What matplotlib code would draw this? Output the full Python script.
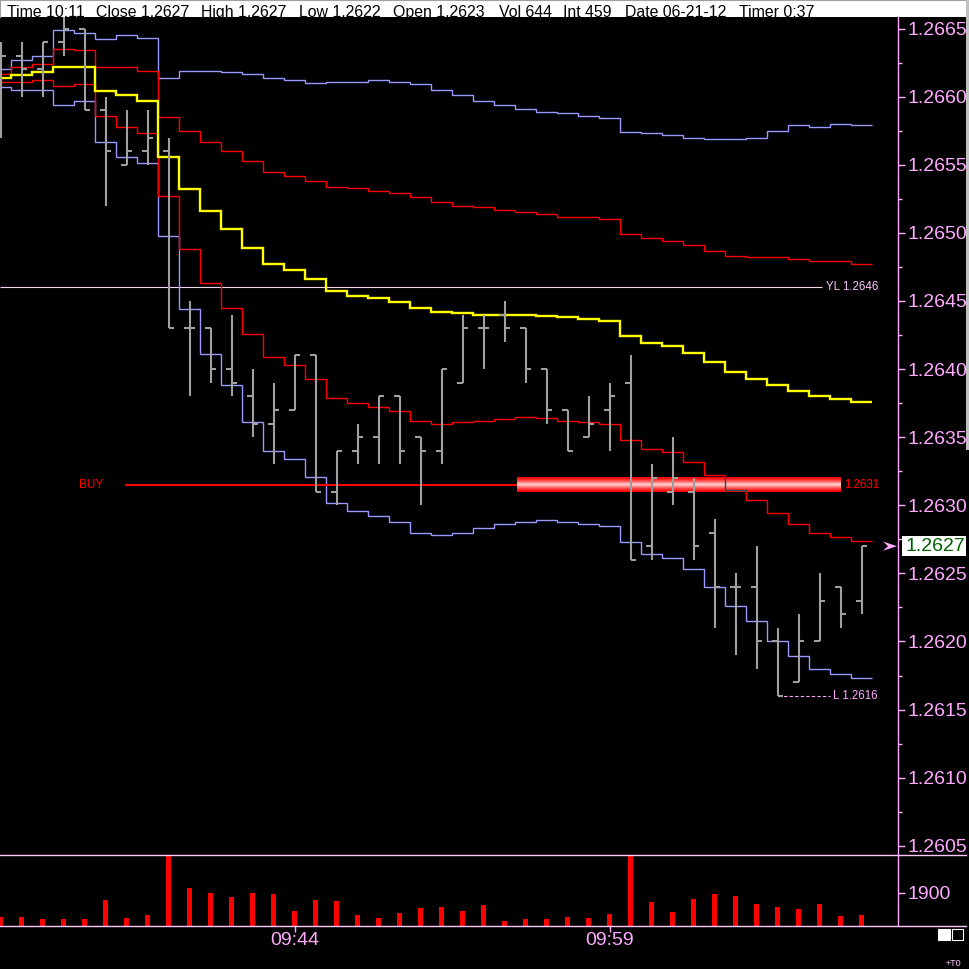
import matplotlib
matplotlib.use("Agg")
import matplotlib.pyplot as plt
import matplotlib.transforms as mtransforms
from matplotlib.patches import Rectangle, Polygon
from matplotlib.lines import Line2D
from matplotlib import font_manager as fm
import numpy as np

# ---------------- data ----------------
times = ["09:30", "09:31", "09:32", "09:33", "09:34", "09:35", "09:36", "09:37", "09:38", "09:39",
         "09:40", "09:41", "09:42", "09:43", "09:44", "09:45", "09:46", "09:47", "09:48", "09:49",
         "09:50", "09:51", "09:52", "09:53", "09:54", "09:55", "09:56", "09:57", "09:58", "09:59",
         "10:00", "10:01", "10:02", "10:03", "10:04", "10:05", "10:06", "10:07", "10:08", "10:09",
         "10:10", "10:11"]

opens = [1.2661, 1.2663, 1.2662, 1.2664, 1.2665, 1.2659, 1.2655, 1.2656, 1.2656, 1.2643,
         1.2643, 1.2640, 1.2638, 1.2636, 1.2637, 1.2641, 1.2631, 1.2634, 1.2635, 1.2638,
         1.2635, 1.2634, 1.2639, 1.2643, 1.2644, 1.2643, 1.2640, 1.2637, 1.2635, 1.2637,
         1.2639, 1.2627, 1.2631, 1.2631, 1.2628, 1.2624, 1.2624, 1.2620, 1.2617, 1.2620,
         1.2624, 1.2623]
highs = [1.2664, 1.2664, 1.2664, 1.2666, 1.2665, 1.2660, 1.2659, 1.2659, 1.2657, 1.2645,
         1.2643, 1.2644, 1.2640, 1.2639, 1.2641, 1.2641, 1.2634, 1.2636, 1.2638, 1.2638,
         1.2635, 1.2640, 1.2644, 1.2644, 1.2645, 1.2643, 1.2640, 1.2637, 1.2638, 1.2639,
         1.2641, 1.2633, 1.2635, 1.2632, 1.2629, 1.2625, 1.2627, 1.2621, 1.2622, 1.2625,
         1.2624, 1.2627]
lows = [1.2657, 1.2660, 1.2660, 1.2663, 1.2659, 1.2652, 1.2655, 1.2655, 1.2643, 1.2638,
        1.2639, 1.2638, 1.2635, 1.2633, 1.2637, 1.2631, 1.2630, 1.2633, 1.2633, 1.2633,
        1.2630, 1.2633, 1.2639, 1.2640, 1.2642, 1.2639, 1.2636, 1.2634, 1.2635, 1.2634,
        1.2626, 1.2626, 1.2630, 1.2626, 1.2621, 1.2619, 1.2618, 1.2616, 1.2617, 1.2620,
        1.2621, 1.2622]
closes = [1.2663, 1.2662, 1.2664, 1.2665, 1.2659, 1.2656, 1.2656, 1.2657, 1.2643, 1.2643,
          1.2640, 1.2639, 1.2636, 1.2637, 1.2641, 1.2631, 1.2634, 1.2635, 1.2638, 1.2634,
          1.2634, 1.2640, 1.2643, 1.2643, 1.2643, 1.2640, 1.2637, 1.2634, 1.2636, 1.2638,
          1.2626, 1.2632, 1.2632, 1.2627, 1.2624, 1.2624, 1.2620, 1.2616, 1.2620, 1.2623,
          1.2622, 1.2627]
volume = [532, 532, 418, 418, 418, 1501, 475, 646, 4600, 2185,
          1900, 1672, 1900, 1843, 874, 1501, 1444, 646, 475, 760,
          1045, 1102, 874, 1216, 304, 418, 418, 532, 475, 703,
          4800, 1387, 817, 1558, 1843, 1729, 1273, 1102, 988, 1273,
          589, 644]

band_outer_upper = [1.26620, 1.26627, 1.26630, 1.26649, 1.26647, 1.26642, 1.26645, 1.26643, 1.26614, 1.26619,
                    1.26619, 1.26618, 1.26617, 1.26614, 1.26612, 1.26610, 1.26611, 1.26611, 1.26612, 1.26611,
                    1.26609, 1.26605, 1.26601, 1.26597, 1.26594, 1.26591, 1.26589, 1.26588, 1.26586, 1.26584,
                    1.26574, 1.26573, 1.26572, 1.26570, 1.26569, 1.26569, 1.26570, 1.26575, 1.26579, 1.26578,
                    1.26580, 1.26579]
band_inner_upper = [1.26617, 1.26622, 1.26624, 1.26635, 1.26634, 1.26622, 1.26622, 1.26619, 1.26585, 1.26575,
                    1.26567, 1.26560, 1.26553, 1.26545, 1.26542, 1.26538, 1.26534, 1.26533, 1.26531, 1.26529,
                    1.26526, 1.26523, 1.26520, 1.26519, 1.26517, 1.26515, 1.26514, 1.26512, 1.26512, 1.26510,
                    1.26499, 1.26496, 1.26494, 1.26491, 1.26487, 1.26483, 1.26482, 1.26482, 1.26481, 1.26479,
                    1.26479, 1.26477]
moving_avg = [1.26614, 1.26616, 1.26618, 1.26622, 1.26622, 1.26604, 1.26601, 1.26597, 1.26556, 1.26532,
              1.26516, 1.26503, 1.26489, 1.26477, 1.26473, 1.26466, 1.26457, 1.26454, 1.26452, 1.26449,
              1.26445, 1.26442, 1.26441, 1.26440, 1.26440, 1.26440, 1.26439, 1.26438, 1.26437, 1.26435,
              1.26424, 1.26419, 1.26417, 1.26412, 1.26405, 1.26398, 1.26393, 1.26388, 1.26384, 1.26380,
              1.26378, 1.26376]
band_inner_lower = [1.26611, 1.26611, 1.26612, 1.26608, 1.26609, 1.26586, 1.26578, 1.26573, 1.26527, 1.26488,
                    1.26463, 1.26445, 1.26426, 1.26409, 1.26403, 1.26393, 1.26379, 1.26375, 1.26372, 1.26369,
                    1.26362, 1.26360, 1.26361, 1.26362, 1.26363, 1.26365, 1.26364, 1.26362, 1.26361, 1.26360,
                    1.26348, 1.26341, 1.26339, 1.26332, 1.26322, 1.26311, 1.26304, 1.26294, 1.26286, 1.26280,
                    1.26277, 1.26274]
band_outer_lower = [1.26607, 1.26605, 1.26605, 1.26594, 1.26597, 1.26567, 1.26556, 1.26551, 1.26498, 1.26444,
                    1.26411, 1.26388, 1.26361, 1.26340, 1.26334, 1.26321, 1.26302, 1.26296, 1.26292, 1.26288,
                    1.26280, 1.26278, 1.26280, 1.26283, 1.26286, 1.26288, 1.26289, 1.26288, 1.26286, 1.26285,
                    1.26273, 1.26264, 1.26261, 1.26253, 1.26240, 1.26226, 1.26215, 1.26200, 1.26189, 1.26180,
                    1.26176, 1.26173]

price_ticks = [1.2605, 1.2610, 1.2615, 1.2620, 1.2625, 1.2630, 1.2635,
               1.2640, 1.2645, 1.2650, 1.2655, 1.2660, 1.2665]
volume_ticks = [1900]
time_tick_labels = ["09:44", "09:59"]
header_fields = ["Time 10:11", "Close 1.2627", "High 1.2627", "Low 1.2622", "Open 1.2623",
                 "Vol 644", "Int 459", "Date 06-21-12", "Timer 0:37"]
header_x_px = [7, 96, 201, 299, 393, 499, 563, 625, 739]
yesterday_low = 1.2646
buy_price = 1.26315
buy_label = "1.2631"

# ---------------- style ----------------
names = {f.name for f in fm.fontManager.ttflist}
main_font = "Liberation Sans" if "Liberation Sans" in names else "DejaVu Sans"
narrow_font = "Liberation Sans Narrow" if "Liberation Sans Narrow" in names else main_font
plt.rcParams["font.family"] = [main_font, "DejaVu Sans"]

PINK = "#ffaaff"
PINK_L = "#ffc8ff"
GREY = "#a0a0a0"
BLUE = "#9999ff"
RED = "#ff0000"
YELLOW = "#ffff00"

W = H = 969
fig = plt.figure(figsize=(W / 100, H / 100), dpi=100, facecolor="black")


def fy(py):
    return 1 - py / H


ax = fig.add_axes([0, fy(855), 898 / W, (855 - 17) / H], facecolor="black")
axv = fig.add_axes([0, fy(926), 898 / W, (926 - 855) / H], facecolor="black")
axh = fig.add_axes([0, fy(17.3), 1, 17.3 / H], facecolor="white")

x = np.arange(len(times))
edges = np.arange(len(times) + 1) - 0.5
XL = (-0.024, 42.738)
YL = (1.2604325, 1.266585)

# step lines
for vals, col, lw in [(band_outer_upper, BLUE, 1.0), (band_outer_lower, BLUE, 1.0),
                      (band_inner_upper, RED, 1.0), (band_inner_lower, RED, 1.0),
                      (moving_avg, YELLOW, 1.7)]:
    ax.stairs(vals, edges, baseline=None, color=col, lw=lw, zorder=3)

# yesterday low line
ax.hlines(yesterday_low, XL[0], 39.1, color="#f0d8f0", lw=0.8, zorder=2)
ax.text(39.3, yesterday_low, f"YL {yesterday_low:.4f}", color=PINK_L, fontsize=8.3,
        va="center", ha="left", zorder=6)

# BUY order line and highlight box
ax.hlines(buy_price, 5.93, 24.6, color=RED, lw=1.5, zorder=4)
ax.text(3.74, buy_price, "BUY", color=RED, fontsize=8.5, family=[narrow_font, "DejaVu Sans"],
        va="center", ha="left")
half = 0.000055
t = np.linspace(0, 1, 32)
v = np.clip(1 - np.abs(t - 0.5) / 0.5, 0, 1) ** 1.4
grad = np.zeros((len(t), 1, 3))
grad[:, 0, 0] = 1.0
grad[:, 0, 1] = 0.85 * v
grad[:, 0, 2] = 0.85 * v
ax.imshow(grad, extent=(24.6, 40.0, buy_price - half, buy_price + half), aspect="auto",
          origin="lower", interpolation="bilinear", zorder=4.5)
box = Rectangle((24.6, buy_price - half), 40.0 - 24.6, 2 * half, transform=ax.transData)
dark = ax.stairs(band_inner_lower, edges, baseline=None, color="#244c4c", lw=1.0, zorder=4.6)
dark.set_clip_path(box)
ax.text(40.17, buy_price, buy_label, color=RED, fontsize=8.3, va="center", ha="left")

# OHLC bars
tick = 0.28
ax.vlines(x, lows, highs, color=GREY, lw=1.5, zorder=5)
ax.hlines(opens, x - tick, x, color=GREY, lw=1.5, zorder=5)
ax.hlines(closes, x, x + tick, color=GREY, lw=1.5, zorder=5)

# session low marker
i_low = int(np.argmin(lows))
ax.hlines(lows[i_low], x[i_low], 39.5, color=PINK, lw=0.8, linestyles=(0, (3, 2)), zorder=4)
ax.text(39.62, lows[i_low], f"L {lows[i_low]:.4f}", color=PINK, fontsize=8.3,
        va="center", ha="left")

ax.set_xlim(*XL)
ax.set_ylim(*YL)
ax.set_xticks([])
ax.yaxis.tick_right()
ax.set_yticks(price_ticks)
ax.set_yticklabels([f"{p:.4f}" for p in price_ticks])
minor = [(a + b) / 2 for a, b in zip(price_ticks[:-1], price_ticks[1:])]
ax.set_yticks(minor, minor=True)
ax.tick_params(axis="y", which="major", colors=PINK, length=5, width=1, pad=2, labelsize=14)
ax.tick_params(axis="y", which="minor", colors=PINK, length=3, width=1)
for s in ["left", "top", "bottom"]:
    ax.spines[s].set_visible(False)
ax.spines["right"].set_color(PINK)
ax.spines["right"].set_linewidth(1)

# current price marker
blend = mtransforms.blended_transform_factory(ax.transAxes, ax.transData)
last = closes[-1]
ax.add_patch(Rectangle((901.7 / 898, last - 0.0000734), (965.7 - 901.7) / 898, 2 * 0.0000734,
                       transform=blend, facecolor="white", edgecolor="none", clip_on=False, zorder=7))
ax.text(905 / 898, last, f"{last:.4f}", transform=blend, color="#006000", fontsize=14,
        va="center", ha="left", clip_on=False, zorder=8)
ax.add_patch(Polygon([(883 / 898, last + 0.000034), (897 / 898, last), (883 / 898, last - 0.000034),
                      (888 / 898, last)], closed=True, transform=blend, facecolor=PINK,
                     edgecolor="none", clip_on=False, zorder=7))

# volume
axv.bar(x, volume, width=0.2, color=RED, zorder=3)
axv.set_xlim(*XL)
axv.set_ylim(0, 4047)
axv.yaxis.tick_right()
axv.set_yticks(volume_ticks)
axv.set_yticklabels([str(vt) for vt in volume_ticks])
axv.set_xticks([times.index(tl) for tl in time_tick_labels])
axv.set_xticklabels(time_tick_labels)
axv.tick_params(axis="y", colors=PINK, length=5, width=1, pad=2, labelsize=14)
axv.tick_params(axis="x", colors=PINK, length=4, width=1, pad=0, labelsize=14)
for s in ["left", "top", "bottom"]:
    axv.spines[s].set_visible(False)
axv.spines["right"].set_color(PINK)
axv.spines["right"].set_linewidth(1)

# separator lines
for py in (855, 926):
    fig.add_artist(Line2D([0, 966 / W], [fy(py), fy(py)], color=PINK_L, lw=1))

# header strip
axh.set_xlim(0, W)
axh.set_ylim(17.3, 0)
axh.set_xticks([])
axh.set_yticks([])
axh.spines["bottom"].set_visible(False)
for s in ["left", "top", "right"]:
    axh.spines[s].set_color("#a0a0a0")
    axh.spines[s].set_linewidth(1.5)
for txt, px in zip(header_fields, header_x_px):
    axh.text(px, 17.0, txt, color="black", fontsize=11.4, va="baseline", ha="left", clip_on=True)

# window border on right, small boxes and +T0
fig.add_artist(Rectangle((966 / W, fy(450)), 3 / W, 450 / H, transform=fig.transFigure,
                         facecolor="#c0c0c0", edgecolor="none"))
fig.add_artist(Rectangle((938 / W, fy(940)), 12 / W, 11 / H, transform=fig.transFigure,
                         facecolor="white", edgecolor="white", lw=0.8))
fig.add_artist(Rectangle((952 / W, fy(940)), 11 / W, 11 / H, transform=fig.transFigure,
                         facecolor="none", edgecolor="white", lw=0.8))
fig.text(946 / W, fy(966), "+T0", color=PINK_L, fontsize=6.5, va="baseline", ha="left")

fig.savefig("out.png", dpi=100, facecolor="black")
